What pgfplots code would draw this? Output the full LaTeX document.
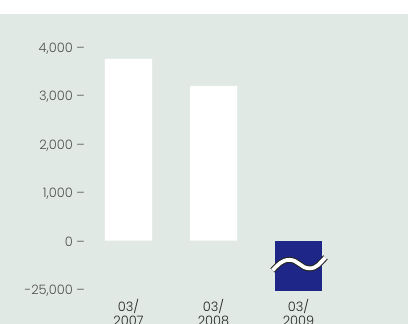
\documentclass[border=0pt]{standalone}
\usepackage{fontspec}
\setmainfont{Poppins}[UprightFont={* Light}]
\usepackage{pgfplots}
\pgfplotsset{compat=1.18}
\definecolor{bg}{RGB}{225,233,229}
\definecolor{navy}{RGB}{30,38,135}
\definecolor{ticktext}{RGB}{80,80,80}
\definecolor{xtext}{RGB}{35,35,35}
\begin{document}
\begin{tikzpicture}
\useasboundingbox (0,0) rectangle (408bp,324bp);
\clip (0,0) rectangle (408bp,324bp);
\fill[white] (0,0) rectangle (408bp,324bp);
\fill[bg] (0,0) rectangle (408bp,310bp);
\begin{axis}[
  at={(86bp,30.2bp)}, anchor=south west,
  scale only axis, width=255bp, height=246.5bp,
  xmin=-0.5, xmax=2.5, ymin=-1100, ymax=4000,
  axis line style={draw=none}, major tick length=0pt,
  tick style={draw=none},
  xtick={0,1,2},
  xticklabels={{03/\\2007},{03/\\2008},{03/\\2009}},
  ytick={-1000,0,1000,2000,3000,4000},
  yticklabels={{-25,000~–},{0~–},{1,000~–},{2,000~–},{3,000~–},{4,000~–}},
  xticklabel style={align=center, anchor=north, inner sep=0pt, yshift=-5bp,
    font=\fontsize{13}{14}\selectfont, text=xtext},
  yticklabel style={anchor=east, inner sep=0pt, xshift=-1bp, yshift=-1.5bp,
    font=\fontsize{13}{14}\selectfont, text=ticktext},
  clip=false,
]
\addplot[ybar, bar width=47bp, bar shift=0pt, fill=white, draw=none]
  coordinates {(0,3760) (1,3200)};
\addplot[ybar, bar width=47bp, bar shift=0pt, fill=navy, draw=none]
  coordinates {(2,-1041)};
\begin{scope}[shift={(axis cs:2,-470)}]
  \draw[line width=6bp, black!85, line cap=butt]
    (-26bp,-7bp) to[out=45,in=180] (-9bp,3.5bp) to[out=0,in=180] (11bp,-5bp) to[out=0,in=225] (27bp,6bp);
  \draw[line width=3.8bp, white, line cap=butt]
    (-26bp,-7bp) to[out=45,in=180] (-9bp,3.5bp) to[out=0,in=180] (11bp,-5bp) to[out=0,in=225] (27bp,6bp);
\end{scope}
\end{axis}
\end{tikzpicture}
\end{document}
